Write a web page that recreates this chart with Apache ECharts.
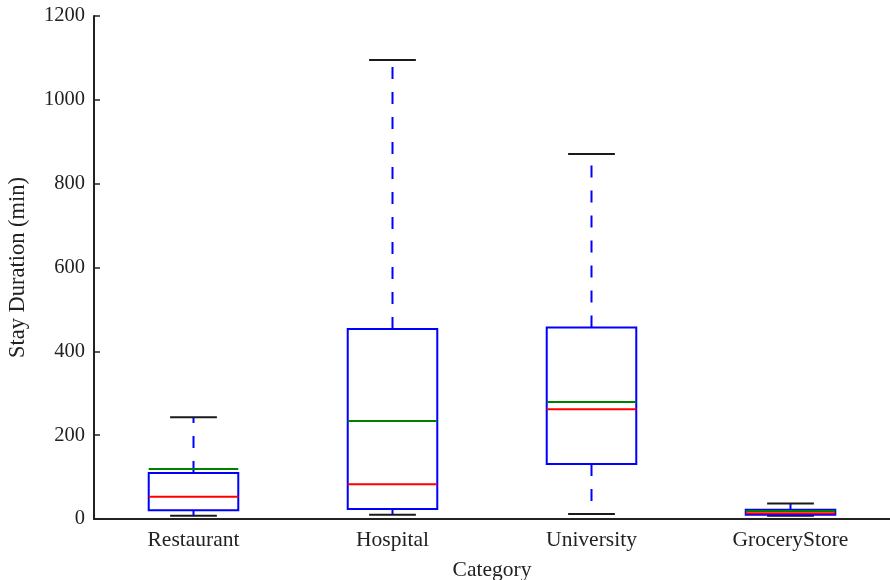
<!DOCTYPE html>
<html><head><meta charset="utf-8">
<script src="https://cdn.jsdelivr.net/npm/echarts@6/dist/echarts.min.js"></script>
<style>html,body{margin:0;padding:0;background:#fff}#c{width:890px;height:580px}</style>
</head><body><div id="c"></div>
<script>
const categories = ['Restaurant', 'Hospital', 'University', 'GroceryStore'];
const whiskerLow = [8, 10, 12, 8];
const q1 = [21, 24, 131, 10];
const median = [53, 83, 262, 14];
const q3 = [110, 453, 457, 22];
const whiskerHigh = [243, 1095, 871, 37];
const mean = [119, 234, 279, 19];
const yTicks = [0, 200, 400, 600, 800, 1000, 1200];

const data = categories.map((c, i) => [i, whiskerLow[i], q1[i], median[i], q3[i], whiskerHigh[i], mean[i]]);
const FONT = 'Liberation Serif';

function renderItem(params, api) {
  const x = api.value(0);
  const band = api.size([1, 0])[0];
  const bw = band * 0.45, cw = band * 0.235;
  const pLow = api.coord([x, api.value(1)]);
  const pQ1 = api.coord([x, api.value(2)]);
  const pMed = api.coord([x, api.value(3)]);
  const pQ3 = api.coord([x, api.value(4)]);
  const pHigh = api.coord([x, api.value(5)]);
  const pMean = api.coord([x, api.value(6)]);
  const cx = pQ1[0];
  const dash = {stroke: '#0000ff', lineWidth: 2, lineDash: [12, 13]};
  const blk = {stroke: '#1a1a1a', lineWidth: 2};
  return {
    type: 'group',
    children: [
      {type: 'line', shape: {x1: cx, y1: pQ3[1], x2: cx, y2: pHigh[1]}, style: dash},
      {type: 'line', shape: {x1: cx, y1: pQ1[1], x2: cx, y2: pLow[1]}, style: dash},
      {type: 'line', shape: {x1: cx - cw / 2, y1: pHigh[1], x2: cx + cw / 2, y2: pHigh[1]}, style: blk},
      {type: 'line', shape: {x1: cx - cw / 2, y1: pLow[1], x2: cx + cw / 2, y2: pLow[1]}, style: blk},
      {type: 'rect', shape: {x: cx - bw / 2, y: pQ3[1], width: bw, height: pQ1[1] - pQ3[1]},
        style: {fill: 'none', stroke: '#0000ff', lineWidth: 2}},
      {type: 'line', shape: {x1: cx - bw / 2, y1: pMed[1], x2: cx + bw / 2, y2: pMed[1]}, style: {stroke: '#ff0000', lineWidth: 2}},
      {type: 'line', shape: {x1: cx - bw / 2, y1: pMean[1], x2: cx + bw / 2, y2: pMean[1]}, style: {stroke: '#008000', lineWidth: 2}}
    ]
  };
}

const chart = echarts.init(document.getElementById('c'), null, {renderer: 'canvas'});
chart.setOption({
  animation: false,
  grid: {left: 94, right: 0, top: 16, bottom: 61, containLabel: false, outerBoundsMode: 'none'},
  xAxis: {
    type: 'category', data: categories, boundaryGap: true,
    name: 'Category', nameLocation: 'middle', nameGap: 40,
    nameTextStyle: {fontFamily: FONT, fontSize: 21.5, color: '#222'},
    axisLine: {lineStyle: {color: '#222', width: 2}},
    axisTick: {show: false},
    axisLabel: {fontFamily: FONT, fontSize: 21.5, color: '#222', margin: 10},
    splitLine: {show: false}
  },
  yAxis: {
    type: 'value', min: 0, max: 1200, interval: 200,
    name: 'Stay Duration (min)', nameLocation: 'middle', nameGap: 64, nameRotate: 90,
    nameTextStyle: {fontFamily: FONT, fontSize: 22.5, color: '#222'},
    axisLine: {show: true, lineStyle: {color: '#222', width: 2}},
    axisTick: {show: true, inside: true, length: 6, lineStyle: {color: '#222', width: 1.5}},
    axisLabel: {fontFamily: FONT, fontSize: 20.5, color: '#222', margin: 9,
      formatter: v => yTicks.includes(v) ? String(v) : ''},
    splitLine: {show: false}
  },
  series: [{
    type: 'custom',
    renderItem: renderItem,
    encode: {x: 0, y: [1, 2, 3, 4, 5, 6]},
    data: data,
    clip: false
  }]
});
</script>
</body></html>
